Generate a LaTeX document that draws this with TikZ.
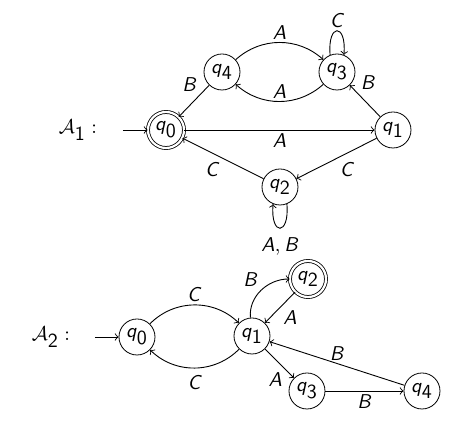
\documentclass[tikz,border=0pt]{standalone}
\usetikzlibrary{arrows}
\newcommand{\qq}[1]{\textsf{\textit{q}}\ensuremath{_{\textsf{#1}}}}
\newcommand{\lt}[1]{\textsf{\textit{#1}}}
\begin{document}
\begin{tikzpicture}[x=0.5pt,y=-0.5pt,
  state/.style={circle,draw,minimum size=18pt,inner sep=0pt},
  acc/.style={state,double,double distance=1.1pt},
  edge/.style={->,>=to,line width=0.45pt},
  lab/.style={inner sep=1.5pt}]
\useasboundingbox (0,0) rectangle (468,432);
% automaton 1
\node (a1) at (78,130) {$\mathcal{A}_{\textsf{1}}:$};
\coordinate (i1) at (123,130);
\node[acc] (p0) at (166,130) {\qq{0}};
\node[state] (p1) at (393,130) {\qq{1}};
\node[state] (p2) at (280,187) {\qq{2}};
\node[state] (p3) at (337,72) {\qq{3}};
\node[state] (p4) at (222,72) {\qq{4}};
\draw[edge] (i1) -- (p0);
\draw[edge] (p4) to[bend left=42] node[lab,above] {\lt{A}} (p3);
\draw[edge] (p3) to[bend left=42] node[lab,above] {\lt{A}} (p4);
\draw[edge] (p3.112) to[out=95,in=85,looseness=6] node[lab,above] {\lt{C}} (p3.68);
\draw[edge] (p4) -- node[lab,above left,pos=0.3] {\lt{B}} (p0);
\draw[edge] (p1) -- node[lab,above right,pos=0.75] {\lt{B}} (p3);
\draw[edge] (p0) -- node[lab,below] {\lt{A}} (p1);
\draw[edge] (p1) -- node[lab,below right] {\lt{C}} (p2);
\draw[edge] (p2) -- node[lab,below left] {\lt{C}} (p0);
\draw[edge] (p2.-68) to[out=-85,in=-95,looseness=6] node[lab,below=3pt] {\lt{A},\kern2pt\lt{B}} (p2.-112);
% automaton 2
\node (a2) at (51,337) {$\mathcal{A}_{\textsf{2}}:$};
\coordinate (i2) at (95,337);
\node[state] (r0) at (137,337) {\qq{0}};
\node[state] (r1) at (252,336) {\qq{1}};
\node[acc] (r2) at (308,279) {\qq{2}};
\node[state] (r3) at (307,391) {\qq{3}};
\node[state] (r4) at (422,391) {\qq{4}};
\draw[edge] (i2) -- (r0);
\draw[edge] (r0) to[bend left=45] node[lab,above] {\lt{C}} (r1);
\draw[edge] (r1) to[bend left=45] node[lab,below=2pt] {\lt{C}} (r0);
\draw[edge] (r1.95) to[out=95,in=180] node[lab,above left] {\lt{B}} (r2);
\draw[edge] (r2) -- node[lab,below right] {\lt{A}} (r1);
\draw[edge] (r1) -- node[lab,below left,pos=0.7] {\lt{A}} (r3);
\draw[edge] (r3) -- node[lab,below] {\lt{B}} (r4);
\draw[edge] (r4) -- node[lab,above] {\lt{B}} (r1);
\end{tikzpicture}
\end{document}
